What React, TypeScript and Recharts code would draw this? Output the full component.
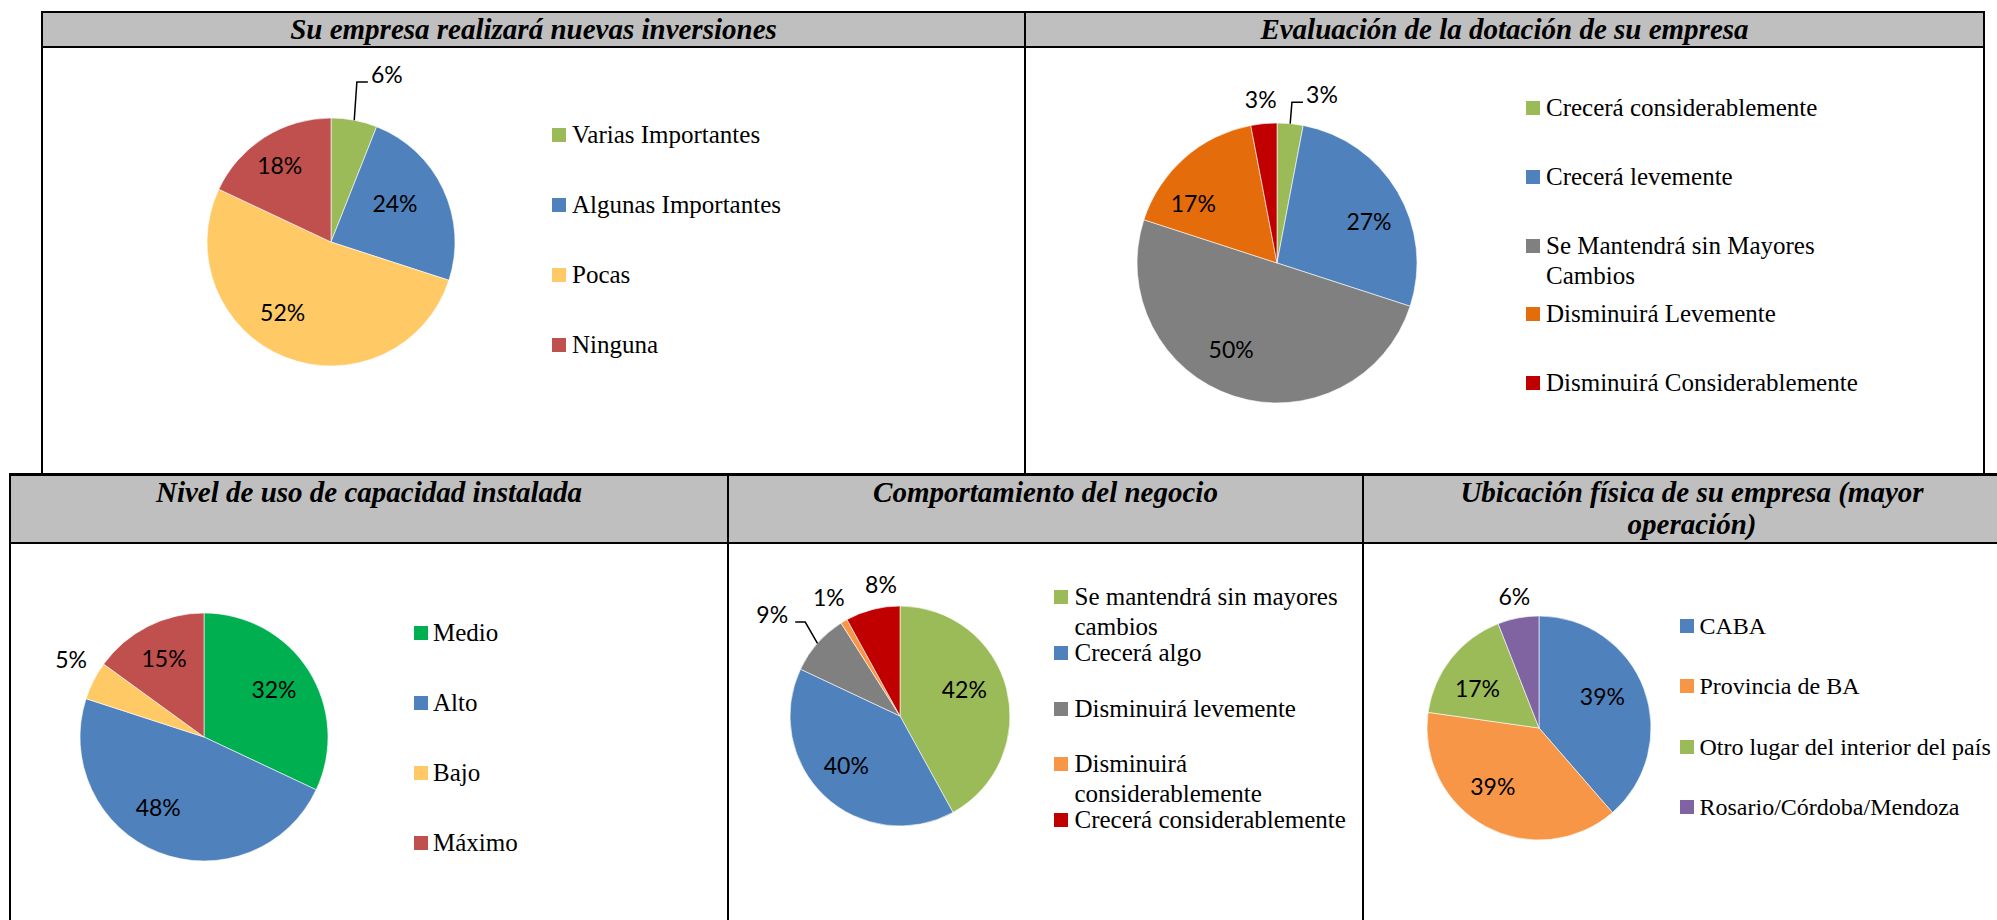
import React from 'react';
import { PieChart, Pie, Cell, Legend } from 'recharts';

// Su empresa realizará nuevas inversiones
const inversionesNames = ['Varias Importantes', 'Algunas Importantes', 'Pocas', 'Ninguna'];
const inversionesValues = [6, 24, 52, 18];

// Evaluación de la dotación de su empresa
const dotacionNames = [
  'Crecerá considerablemente',
  'Crecerá levemente',
  'Se Mantendrá sin Mayores Cambios',
  'Disminuirá Levemente',
  'Disminuirá Considerablemente',
];
const dotacionValues = [3, 27, 50, 17, 3];

// Nivel de uso de capacidad instalada
const capacidadNames = ['Medio', 'Alto', 'Bajo', 'Máximo'];
const capacidadValues = [32, 48, 5, 15];

// Comportamiento del negocio
const negocioNames = [
  'Se mantendrá sin mayores cambios',
  'Crecerá algo',
  'Disminuirá levemente',
  'Disminuirá considerablemente',
  'Crecerá considerablemente',
];
const negocioValues = [42, 40, 9, 1, 8];

// Ubicación física de su empresa
const ubicacionNames = ['CABA', 'Provincia de BA', 'Otro lugar del interior del país', 'Rosario/Córdoba/Mendoza'];
const ubicacionValues = [39, 39, 17, 6];

const inversionesColors = ['#9BBB59', '#4F81BD', '#FFCA66', '#C0504D'];
const dotacionColors = ['#9BBB59', '#4F81BD', '#808080', '#E46C0A', '#C00000'];
const capacidadColors = ['#00B050', '#4F81BD', '#FFCA66', '#C0504D'];
const negocioColors = ['#9BBB59', '#4F81BD', '#808080', '#F79646', '#C00000'];
const ubicacionColors = ['#4F81BD', '#F79646', '#9BBB59', '#8064A2'];

const RAD = Math.PI / 180;
const SERIF = "'Liberation Serif', 'Times New Roman', serif";
const LABEL_FONT = "Lato, 'Open Sans', sans-serif";

// label placement: radius factor, angle shift from the slice middle, leader line
type Place = { f: number; off: number; leader?: boolean };

const makeLabel = (places: Place[]) => (props: any) => {
  const { cx, cy, midAngle, outerRadius, index, value } = props;
  const p = places[index];
  const mid = 90 - midAngle;
  const t = (mid + p.off) * RAD;
  const lx = cx + p.f * outerRadius * Math.sin(t);
  const ly = cy - p.f * outerRadius * Math.cos(t);
  let line = null;
  if (p.leader) {
    const ex = cx + outerRadius * Math.sin(mid * RAD);
    const ey = cy - outerRadius * Math.cos(mid * RAD);
    const right = lx > cx;
    const bx = right ? lx - 30 : lx + 33;
    const tx = right ? lx - 19 : lx + 23;
    line = (
      <polyline
        points={`${ex},${ey} ${bx},${ly + 7} ${tx},${ly + 7}`}
        fill="none"
        stroke="#000"
        strokeWidth={1.5}
      />
    );
  }
  return (
    <g key={`lbl-${index}`}>
      {line}
      <text x={lx} y={ly + 8} textAnchor="middle" fontFamily={LABEL_FONT} fontSize={23} fill="#000">
        {value}%
      </text>
    </g>
  );
};

interface LegendBox {
  x: number
  y: number
  slot: number
  textWidth?: number
  gap?: number
  fontSize?: number
}

interface PiePanelProps {
  left: number
  top: number
  width: number
  height: number
  cx: number
  cy: number
  r: number
  names: string[]
  values: number[]
  colors: string[]
  places: Place[]
  legend: LegendBox
}

const PiePanel: React.FC<PiePanelProps> = ({ left, top, width, height, cx, cy, r, names, values, colors, places, legend }) => {
  const data = names.map((name, i) => ({ name, value: values[i] }));
  const gap = legend.gap ?? 6;
  return (
    <div style={{ position: 'absolute', left, top, width, height }}>
      <PieChart width={width} height={height} margin={{ top: 0, right: 0, bottom: 0, left: 0 }}>
        <Pie
          data={data}
          dataKey="value"
          nameKey="name"
          cx={cx}
          cy={cy}
          outerRadius={r}
          startAngle={90}
          endAngle={-270}
          stroke="#fff"
          strokeWidth={0.6}
          label={makeLabel(places)}
          labelLine={false}
          isAnimationActive={false}
        >
          {data.map((d, i) => (
            <Cell key={d.name} fill={colors[i]} />
          ))}
        </Pie>
        <Legend
          layout="vertical"
          align="right"
          verticalAlign="top"
          wrapperStyle={{ left: legend.x, top: legend.y, right: 'auto', width: 420 }}
          content={() => (
            <div style={{ position: 'relative', fontFamily: SERIF, fontSize: legend.fontSize ?? 25, color: '#000' }}>
              {names.map((name, i) => (
                <div key={name} style={{ position: 'absolute', left: 0, top: i * legend.slot, display: 'flex' }}>
                  <span style={{ width: 14, height: 14, marginTop: 8, background: colors[i], flex: 'none' }} />
                  <span
                    style={{
                      marginLeft: gap,
                      lineHeight: '30px',
                      width: legend.textWidth ?? 400,
                      whiteSpace: legend.textWidth ? 'normal' : 'nowrap',
                    }}
                  >
                    {name}
                  </span>
                </div>
              ))}
            </div>
          )}
        />
      </PieChart>
    </div>
  );
};

interface FrameProps {
  left: number
  top: number
  width: number
  height: number
  title: string[]
  barHeight: number
  topBorder: number
  lineHeight: number
}

const Frame: React.FC<FrameProps> = ({ left, top, width, height, title, barHeight, topBorder, lineHeight }) => (
  <div
    style={{
      position: 'absolute',
      left,
      top,
      width,
      height,
      boxSizing: 'border-box',
      borderLeft: '2px solid #000',
      borderRight: '2px solid #000',
      borderTop: `${topBorder}px solid #000`,
    }}
  >
    <div
      style={{
        height: barHeight,
        background: '#BFBFBF',
        borderBottom: '2px solid #000',
        textAlign: 'center',
        fontFamily: SERIF,
        fontStyle: 'italic',
        fontWeight: 'bold',
        fontSize: 29,
        lineHeight: `${lineHeight}px`,
        color: '#000',
      }}
    >
      {title.map((t) => (
        <div key={t}>{t}</div>
      ))}
    </div>
  </div>
);

export default function App() {
  return (
    <div
      style={{
        position: 'fixed',
        left: 0,
        top: 0,
        width: 1997,
        height: 920,
        background: '#fff',
        overflow: 'hidden',
      }}
    >
      <Frame left={41} top={11} width={985} height={463} title={['Su empresa realizará nuevas inversiones']} barHeight={33} topBorder={2} lineHeight={33} />
      <Frame left={1024} top={11} width={961} height={463} title={['Evaluación de la dotación de su empresa']} barHeight={33} topBorder={2} lineHeight={33} />
      <Frame left={9} top={473} width={720} height={460} title={['Nivel de uso de capacidad instalada']} barHeight={66} topBorder={3} lineHeight={32} />
      <Frame left={727} top={473} width={637} height={460} title={['Comportamiento del negocio']} barHeight={66} topBorder={3} lineHeight={32} />
      <Frame
        left={1362}
        top={473}
        width={660}
        height={460}
        title={['Ubicación física de su empresa (mayor', 'operación)']}
        barHeight={66}
        topBorder={3}
        lineHeight={32}
      />

      <PiePanel
        left={43}
        top={48}
        width={980}
        height={424}
        cx={288}
        cy={194}
        r={124}
        names={inversionesNames}
        values={inversionesValues}
        colors={inversionesColors}
        places={[
          { f: 1.42, off: 7.7, leader: true },
          { f: 0.6, off: -5.5 },
          { f: 0.69, off: 12.8 },
          { f: 0.74, off: -1.6 },
        ]}
        legend={{ x: 509, y: 72, slot: 70 }}
      />
      <PiePanel
        left={1026}
        top={48}
        width={956}
        height={424}
        cx={251}
        cy={215}
        r={140}
        names={dotacionNames}
        values={dotacionValues}
        colors={dotacionColors}
        places={[
          { f: 1.24, off: 9.6, leader: true },
          { f: 0.72, off: 6.4 },
          { f: 0.7, off: 9.9 },
          { f: 0.73, off: -13.6 },
          { f: 1.17, off: -0.3 },
        ]}
        legend={{ x: 500, y: 45, slot: 68.75, textWidth: 340 }}
      />
      <PiePanel
        left={11}
        top={544}
        width={716}
        height={376}
        cx={193}
        cy={193}
        r={124}
        names={capacidadNames}
        values={capacidadValues}
        colors={capacidadColors}
        places={[
          { f: 0.68, off: -1.5 },
          { f: 0.68, off: 11.3 },
          { f: 1.24, off: 3.2 },
          { f: 0.71, off: 0 },
        ]}
        legend={{ x: 403, y: 74, slot: 70, gap: 5 }}
      />
      <PiePanel
        left={729}
        top={544}
        width={633}
        height={376}
        cx={171}
        cy={172}
        r={110}
        names={negocioNames}
        values={negocioValues}
        colors={negocioColors}
        places={[
          { f: 0.63, off: -7.6 },
          { f: 0.67, off: 3.6 },
          { f: 1.48, off: -3.1, leader: true },
          { f: 1.25, off: -0.6 },
          { f: 1.2, off: 6.1 },
        ]}
        legend={{ x: 325, y: 38, slot: 55.75, textWidth: 295, gap: 6.5 }}
      />
      <PiePanel
        left={1364}
        top={544}
        width={633}
        height={376}
        cx={175}
        cy={184}
        r={112}
        names={ubicacionNames}
        values={ubicacionValues}
        colors={ubicacionColors}
        places={[
          { f: 0.63, off: -5.5 },
          { f: 0.67, off: 9.5 },
          { f: 0.65, off: -6 },
          { f: 1.19, off: 0 },
        ]}
        legend={{ x: 316, y: 66.7, slot: 60.5, gap: 5.5, fontSize: 24 }}
      />
    </div>
  );
}
